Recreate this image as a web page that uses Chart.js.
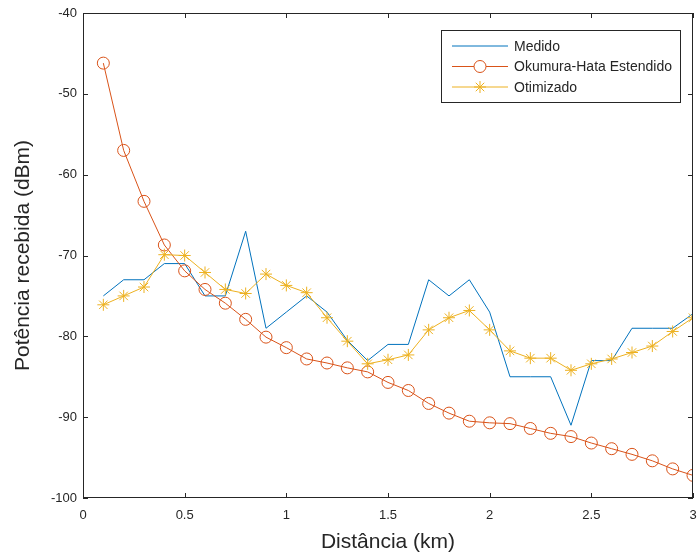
<!DOCTYPE html>
<html>
<head>
<meta charset="utf-8">
<script src="https://cdn.jsdelivr.net/npm/chart.js@4"></script>
<style>
    body { margin: 0; background: #fff; }
    canvas { display: block; }
</style>
</head>
<body>
<canvas id="chart" width="700" height="560"></canvas>
<script>
const distancia = [0.1, 0.2, 0.3, 0.4, 0.5, 0.6, 0.7, 0.8, 0.9, 1.0,
    1.1, 1.2, 1.3, 1.4, 1.5, 1.6, 1.7, 1.8, 1.9, 2.0,
    2.1, 2.2, 2.3, 2.4, 2.5, 2.6, 2.7, 2.8, 2.9, 3.0];
const medido = [-75, -73, -73, -71, -71, -75, -75, -67, -79, -77,
    -75, -77, -80.5, -83, -81, -81, -73, -75, -73, -77,
    -85, -85, -85, -91, -83, -83, -79, -79, -79, -77.2];
const okumuraHata = [-46.2, -57.0, -63.3, -68.7, -71.9, -74.2, -75.9, -77.9, -80.1, -81.4,
    -82.8, -83.3, -83.9, -84.4, -85.7, -86.7, -88.3, -89.5, -90.5, -90.7,
    -90.8, -91.4, -92.0, -92.4, -93.2, -93.9, -94.6, -95.4, -96.4, -97.2];
const otimizado = [-76.1, -75.0, -73.9, -69.9, -70.0, -72.1, -74.2, -74.7, -72.3, -73.7,
    -74.6, -77.7, -80.6, -83.4, -82.9, -82.3, -79.2, -77.7, -76.8, -79.2,
    -81.8, -82.7, -82.7, -84.2, -83.4, -82.8, -82.0, -81.2, -79.4, -77.7];
const xTicks = [0, 0.5, 1, 1.5, 2, 2.5, 3];
const yTicks = [-100, -90, -80, -70, -60, -50, -40];
const seriesNames = ['Medido', 'Okumura-Hata Estendido', 'Otimizado'];

const AXIS_COLOR = '#262626';
const FONT = '"Liberation Sans", Arial, sans-serif';

function toPoints(values) {
    return distancia.map((d, i) => ({ x: d, y: values[i] }));
}

// caixa dos eixos com marcas para dentro (estilo MATLAB)
const boxPlugin = {
    id: 'box',
    afterDraw(chart) {
        const { ctx, chartArea: a, scales } = chart;
        const tick = 5;
        ctx.save();
        ctx.strokeStyle = AXIS_COLOR;
        ctx.lineWidth = 1;
        ctx.strokeRect(a.left + 0.5, a.top + 0.5, a.right - a.left - 1, a.bottom - a.top - 1);
        ctx.beginPath();
        xTicks.forEach(v => {
            const x = Math.round(scales.x.getPixelForValue(v)) + 0.5;
            ctx.moveTo(x, a.bottom); ctx.lineTo(x, a.bottom - tick);
            ctx.moveTo(x, a.top); ctx.lineTo(x, a.top + tick);
        });
        yTicks.forEach(v => {
            const y = Math.round(scales.y.getPixelForValue(v)) + 0.5;
            ctx.moveTo(a.left, y); ctx.lineTo(a.left + tick, y);
            ctx.moveTo(a.right, y); ctx.lineTo(a.right - tick, y);
        });
        ctx.stroke();
        ctx.restore();
    }
};

// legenda dentro do gráfico, canto superior direito
const legendPlugin = {
    id: 'insideLegend',
    afterDraw(chart) {
        const ctx = chart.ctx;
        const bx = 441.5, by = 30.5, bw = 239, bh = 72;
        ctx.save();
        ctx.fillStyle = '#fff';
        ctx.fillRect(bx, by, bw, bh);
        ctx.strokeStyle = AXIS_COLOR;
        ctx.lineWidth = 1;
        ctx.strokeRect(bx, by, bw, bh);
        ctx.font = '14px ' + FONT;
        ctx.textBaseline = 'middle';
        chart.data.datasets.forEach((ds, i) => {
            const y = 46 + i * 20.5;
            ctx.strokeStyle = ds.borderColor;
            ctx.lineWidth = 1;
            ctx.beginPath();
            ctx.moveTo(452, y);
            ctx.lineTo(508, y);
            ctx.stroke();
            if (ds.pointRadius > 0) {
                ctx.fillStyle = '#fff';
                Chart.helpers.drawPoint(ctx, {
                    pointStyle: ds.pointStyle,
                    radius: ds.pointRadius,
                    borderWidth: 1
                }, 480, y);
            }
            ctx.fillStyle = AXIS_COLOR;
            ctx.fillText(seriesNames[i], 514, y + 1);
        });
        ctx.restore();
    }
};

new Chart(document.getElementById('chart'), {
    type: 'line',
    data: {
        datasets: [
            {
                label: seriesNames[0],
                data: toPoints(medido),
                borderColor: '#0072BD',
                borderWidth: 1,
                pointRadius: 0,
                order: 3
            },
            {
                label: seriesNames[1],
                data: toPoints(okumuraHata),
                borderColor: '#D95319',
                borderWidth: 1,
                pointStyle: 'circle',
                pointRadius: 6,
                pointBorderWidth: 1,
                pointBackgroundColor: 'rgba(0,0,0,0)',
                order: 2
            },
            {
                label: seriesNames[2],
                data: toPoints(otimizado),
                borderColor: '#EDB120',
                borderWidth: 1,
                pointStyle: 'star',
                pointRadius: 6,
                pointBorderWidth: 1,
                pointBackgroundColor: '#EDB120',
                order: 1
            }
        ]
    },
    options: {
        responsive: false,
        animation: false,
        layout: { padding: { top: 13, right: 3, left: 0, bottom: 0 } },
        elements: { line: { tension: 0 } },
        plugins: {
            legend: { display: false },
            tooltip: { enabled: false }
        },
        scales: {
            x: {
                type: 'linear',
                min: 0,
                max: 3,
                afterFit: scale => {
                    scale.height = 62;
                    scale.paddingLeft = 0;
                    scale.paddingRight = 0;
                },
                afterBuildTicks: scale => { scale.ticks = xTicks.map(v => ({ value: v })); },
                grid: { display: false, drawTicks: false },
                border: { display: false },
                ticks: {
                    color: AXIS_COLOR,
                    padding: 10,
                    maxRotation: 0,
                    font: { family: FONT, size: 13 },
                    callback: v => String(v)
                },
                title: {
                    display: true,
                    text: 'Distância (km)',
                    color: AXIS_COLOR,
                    font: { family: FONT, size: 21 },
                    padding: { top: 0, bottom: 5 }
                }
            },
            y: {
                min: -100,
                max: -40,
                afterFit: scale => {
                    scale.width = 83;
                    scale.paddingTop = 0;
                    scale.paddingBottom = 0;
                },
                afterBuildTicks: scale => { scale.ticks = yTicks.map(v => ({ value: v })); },
                grid: { display: false, drawTicks: false },
                border: { display: false },
                ticks: {
                    color: AXIS_COLOR,
                    padding: 6,
                    font: { family: FONT, size: 13 },
                    callback: v => String(v)
                },
                title: {
                    display: true,
                    text: 'Potência recebida (dBm)',
                    color: AXIS_COLOR,
                    font: { family: FONT, size: 21 },
                    padding: { top: 11, bottom: 0 }
                }
            }
        }
    },
    plugins: [boxPlugin, legendPlugin]
});
</script>
</body>
</html>
